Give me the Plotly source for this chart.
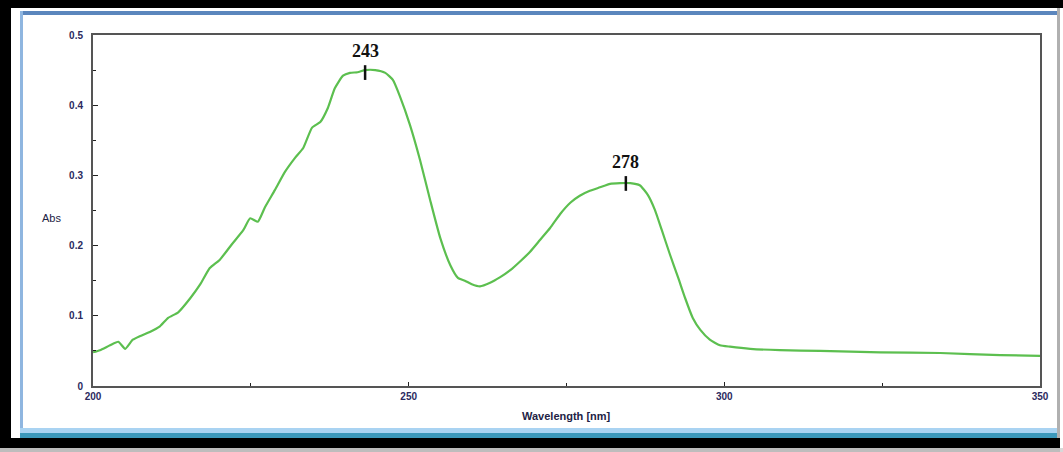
import plotly.graph_objects as go

# ---- data ----
wavelength = [200, 201.1, 202.7, 204, 205.1, 206.3, 207.4, 209, 210.6, 211.9, 213.5, 215.4, 217,
              218.5, 220.1, 222, 223.8, 224.9, 226.1, 227.2, 228.8, 230.4, 232, 233.3, 234.7, 236,
              237.2, 238.3, 239.6, 240.7, 241.9, 243.1, 244.7, 246.3, 247.5, 248.6, 250.2, 251.8,
              253.4, 255, 256.6, 257.8, 258.9, 260, 261.3, 262.9, 264.5, 266.1, 267.6, 269.2,
              270.8, 272.4, 274, 275.6, 277.1, 278.7, 280.3, 281.9, 283.5, 285.1, 286.6, 287.9,
              289, 290.1, 291.4, 292.7, 293.8, 295, 296.2, 297.7, 299.3, 300.9, 304.1, 308.8,
              315.2, 324.7, 334.2, 343.7, 350]
absorbance = [0.048, 0.051, 0.058, 0.063, 0.053, 0.066, 0.071, 0.077, 0.085, 0.097, 0.105, 0.125, 0.145,
              0.168, 0.180, 0.202, 0.222, 0.239, 0.234, 0.254, 0.279, 0.305, 0.325, 0.339, 0.368, 0.376,
              0.396, 0.424, 0.442, 0.446, 0.447, 0.450, 0.450, 0.446, 0.436, 0.413, 0.372, 0.322,
              0.265, 0.211, 0.172, 0.154, 0.150, 0.145, 0.142, 0.147, 0.155, 0.165, 0.177, 0.191,
              0.208, 0.225, 0.245, 0.261, 0.271, 0.278, 0.283, 0.288, 0.289, 0.289, 0.286, 0.272,
              0.251, 0.222, 0.187, 0.154, 0.125, 0.097, 0.080, 0.066, 0.058, 0.056, 0.053, 0.051,
              0.050, 0.048, 0.047, 0.044, 0.043]

peak_labels = ["243", "278"]
peak_x = [243.1, 284.4]
peak_y = [0.447, 0.289]

x_ticks = [200, 250, 300, 350]
y_ticks = [0, 0.1, 0.2, 0.3, 0.4, 0.5]
y_ticktext = ["0", "0.1", "0.2", "0.3", "0.4", "0.5"]

W, H = 1063, 452
L, R, T, B = 93, 23, 35, 66
PW, PH = W - L - R, H - T - B


def px(x):
    return (x - L) / PW


def py(y):
    return (H - B - y) / PH


fig = go.Figure()
fig.add_trace(go.Scatter(x=wavelength, y=absorbance, mode="lines",
                         line=dict(color="#5cbf4f", width=2.2, shape="spline", smoothing=0.5),
                         hoverinfo="skip", showlegend=False))

shapes = []
# frame decorations (black outer border, blue inner lines)
def rect(x0, y0, x1, y1, color):
    shapes.append(dict(type="rect", xref="paper", yref="paper", x0=px(x0), x1=px(x1),
                       y0=py(y1), y1=py(y0), fillcolor=color, line=dict(width=0), layer="below"))

rect(0, 0, W, 8, "#000000")
rect(0, 0, 11, 448, "#000000")
rect(0, 438, 1060, 448, "#000000")
rect(1060, 448, W, H, "#d8d8d8")
rect(0, 448, 1060, H, "#bdbdbd")
rect(1057, 8, 1060, 438, "#b0b0b0")
rect(20, 11, 1057, 15, "#5b86bd")
rect(20, 11, 23, 438, "#8fb6e0")
rect(20, 428, 1057, 433, "#a9d3f2")
rect(20, 433, 1057, 438, "#3b98bb")

# peak marker ticks
for xv, yv in zip(peak_x, peak_y):
    shapes.append(dict(type="line", xref="x", yref="y", x0=xv, x1=xv, y0=yv - 0.011, y1=yv + 0.010,
                       line=dict(color="#111111", width=2.5)))

annotations = []
for lab, xv, yv in zip(peak_labels, peak_x, peak_y):
    annotations.append(dict(x=xv, y=yv + 0.013, xref="x", yref="y", text=lab, showarrow=False,
                            yanchor="bottom", xanchor="center",
                            font=dict(family="Liberation Serif", size=18, color="#111111", weight="bold")))

annotations.append(dict(x=px(51), y=py(218), xref="paper", yref="paper", text="Abs", showarrow=False,
                        font=dict(family="Liberation Sans", size=11, color="#222244"), xanchor="center",
                        yanchor="middle"))
annotations.append(dict(x=px(566), y=py(416), xref="paper", yref="paper", text="Wavelength [nm]",
                        showarrow=False, font=dict(family="Liberation Sans", size=11, color="#222244",
                                                   weight="bold"),
                        xanchor="center", yanchor="middle"))

tickfont = dict(family="Liberation Sans", size=10, color="#2b2a5e", weight="bold")

fig.update_layout(
    width=W, height=H,
    margin=dict(l=L, r=R, t=T, b=B),
    paper_bgcolor="white", plot_bgcolor="white",
    shapes=shapes, annotations=annotations,
    xaxis=dict(range=[200, 350], tickvals=x_ticks, ticktext=[str(v) for v in x_ticks],
               showgrid=False, zeroline=False, showline=True, mirror=True, linecolor="#555555",
               linewidth=2, ticks="inside", ticklen=4, tickcolor="#222222", tickfont=tickfont,
               minor=dict(tickvals=[225, 275, 325], ticks="inside", ticklen=3, tickcolor="#222222"),
               fixedrange=True),
    yaxis=dict(range=[0, 0.5], tickvals=y_ticks, ticktext=y_ticktext,
               showgrid=False, zeroline=False, showline=True, mirror=True, linecolor="#555555",
               linewidth=2, ticks="inside", ticklen=5, tickcolor="#222222", tickfont=tickfont,
               ticklabelstandoff=6,
               minor=dict(tickvals=[0.05, 0.15, 0.25, 0.35, 0.45], ticks="inside", ticklen=3,
                          tickcolor="#222222"),
               fixedrange=True),
)

fig.write_html("out.html")
